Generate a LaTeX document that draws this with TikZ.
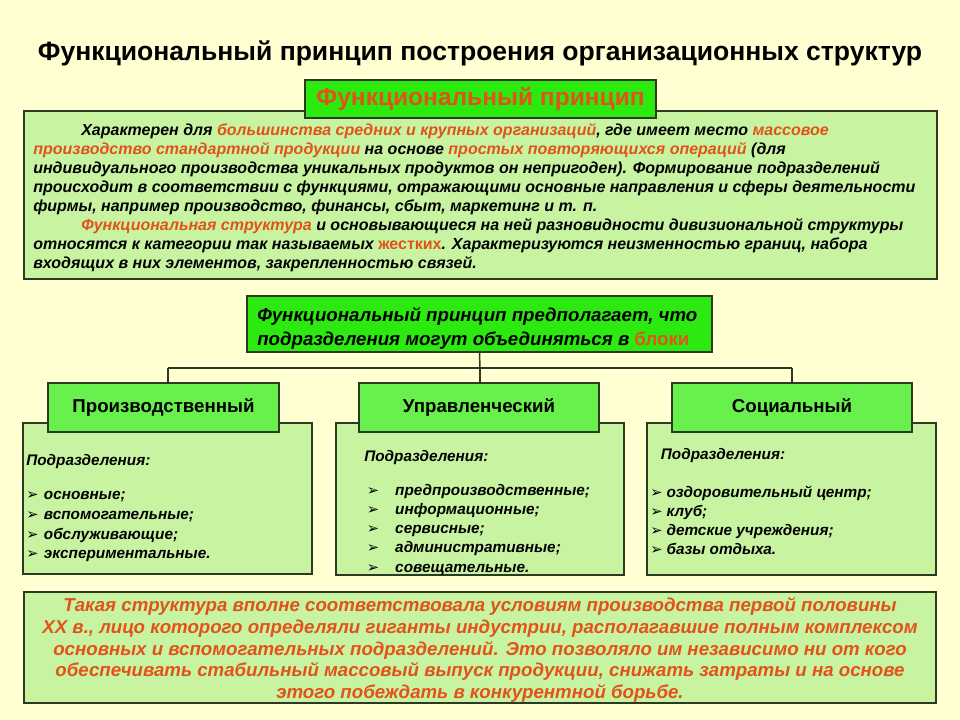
\documentclass[tikz,border=0pt]{standalone}
\usepackage{fontspec}
\setmainfont{Liberation Sans}
\newfontfamily\dejavu{DejaVu Sans}
\usetikzlibrary{fit}
\definecolor{bg}{HTML}{FFFFD2}
\definecolor{brightgreen}{HTML}{2CEA10}
\definecolor{catgreen}{HTML}{68F04C}
\definecolor{lightgreen}{HTML}{C8F4A2}
\definecolor{orng}{HTML}{E2521A}
\definecolor{edge}{HTML}{2B3A20}
\newcommand\hl[1]{\textcolor{orng}{#1}}
\newcommand\bul{{\dejavu\upshape\fontsize{11pt}{11pt}\selectfont ➢}}
\tikzset{
  box/.style={draw=edge, line width=1.1pt, inner sep=0pt},
  conn/.style={draw=edge, line width=1.1pt},
  bodytext/.style={inner sep=0pt, align=left, font=\bfseries\itshape\fontsize{12pt}{14.25pt}\selectfont},
  listtext/.style={inner sep=0pt, align=left, anchor=north west, font=\bfseries\itshape\fontsize{11.5pt}{14.8pt}\selectfont},
  catlabel/.style={font=\bfseries\fontsize{14pt}{16pt}\selectfont},
}
\begin{document}
\begin{tikzpicture}[x=0.75pt,y=-0.75pt]
\useasboundingbox (0,0) rectangle (960,720);
\fill[bg] (0,0) rectangle (960,720);
\node[font=\bfseries\fontsize{19.9pt}{22pt}\selectfont] (title) at (480,53) {Функциональный принцип построения организационных структур};
% main text box
\node[box, fill=lightgreen, fit={(24,111) (937,279)}] (mainbox) {};
\node[box, fill=brightgreen, fit={(305,80) (656,118)}] (header) {};
\node[text=orng, font=\bfseries\fontsize{18.4pt}{20pt}\selectfont] (headertext) at (header.center) {Функциональный принцип};
\node[bodytext, anchor=north west] (maintext) at (33,123.5) {%
\hspace*{36pt}Характерен для \hl{большинства средних и крупных организаций}, где имеет место \hl{массовое}\\
\hl{производство стандартной продукции} на основе \hl{простых повторяющихся операций} (для\\
индивидуального производства уникальных продуктов он непригоден). Формирование подразделений\\
происходит в соответствии с функциями, отражающими основные направления и сферы деятельности\\
фирмы, например производство, финансы, сбыт, маркетинг и т. п.\\
\hspace*{36pt}\hl{Функциональная структура} и основывающиеся на ней разновидности дивизиональной структуры\\
относятся к категории так называемых \hl{\upshape жестких}. Характеризуются неизменностью границ, набора\\
входящих в них элементов, закрепленностью связей.};
% middle box
\node[box, fill=brightgreen, fit={(247,296) (712,352)}] (mid) {};
\node[inner sep=0pt, align=left, anchor=west, font=\bfseries\itshape\fontsize{14pt}{18pt}\selectfont] (midtext) at (257,328) {Функциональный принцип предполагает, что\\подразделения могут объединяться в \hl{\upshape блоки}};
% connectors
\coordinate (j) at (480,368);
\coordinate (jl) at (168,368);
\coordinate (jr) at (792,368);
% content boxes
\node[box, fill=lightgreen, fit={(23,423) (312,574)}] (c1) {};
\node[box, fill=lightgreen, fit={(336,423) (624,575)}] (c2) {};
\node[box, fill=lightgreen, fit={(647,423) (936,575)}] (c3) {};
% category boxes
\node[box, fill=catgreen, fit={(48,383) (279,432)}] (cat1) {};
\node[box, fill=catgreen, fit={(359,383) (599,432)}] (cat2) {};
\node[box, fill=catgreen, fit={(672,383) (912,432)}] (cat3) {};
\node[catlabel] (cat1t) at (cat1.center) {Производственный};
\node[catlabel] (cat2t) at (cat2.center) {Управленческий};
\node[catlabel] (cat3t) at (cat3.center) {Социальный};
\draw[conn] (mid.south) -- (j);
\draw[conn] (jl) -- (jr);
\draw[conn] (jl) -- (jl |- cat1.north);
\draw[conn] (j) -- (j |- cat2.north);
\draw[conn] (jr) -- (jr |- cat3.north);
% lists
\node[listtext] (l1) at (26,454) {Подразделения:\\[11pt]
\bul\hspace{4pt}основные;\\
\bul\hspace{4pt}вспомогательные;\\
\bul\hspace{4pt}обслуживающие;\\
\bul\hspace{4pt}экспериментальные.};
\node[listtext, font=\bfseries\itshape\fontsize{11.5pt}{14.4pt}\selectfont] (l2) at (364,450) {Подразделения:\\[11pt]
\hspace*{2pt}\bul\hspace{12pt}предпроизводственные;\\
\hspace*{2pt}\bul\hspace{12pt}информационные;\\
\hspace*{2pt}\bul\hspace{12pt}сервисные;\\
\hspace*{2pt}\bul\hspace{12pt}административные;\\
\hspace*{2pt}\bul\hspace{12pt}совещательные.};
\node[listtext, font=\bfseries\itshape\fontsize{11.5pt}{14.3pt}\selectfont] (l3) at (650,448) {\hspace*{8pt}Подразделения:\\[14pt]
\bul\hspace{3pt}оздоровительный центр;\\
\bul\hspace{3pt}клуб;\\
\bul\hspace{3pt}детские учреждения;\\
\bul\hspace{3pt}базы отдыха.};
% bottom box
\node[box, fill=lightgreen, fit={(24,592) (936,703)}] (bottom) {};
\node[inner sep=0pt, align=center, text=orng, font=\bfseries\itshape\fontsize{14pt}{16.35pt}\selectfont] (bottomtext) at (480,650) {Такая структура вполне соответствовала условиям производства первой половины\\
XX в., лицо которого определяли гиганты индустрии, располагавшие полным комплексом\\
основных и вспомогательных подразделений. Это позволяло им независимо ни от кого\\
обеспечивать стабильный массовый выпуск продукции, снижать затраты и на основе\\
этого побеждать в конкурентной борьбе.};
\end{tikzpicture}
\end{document}
